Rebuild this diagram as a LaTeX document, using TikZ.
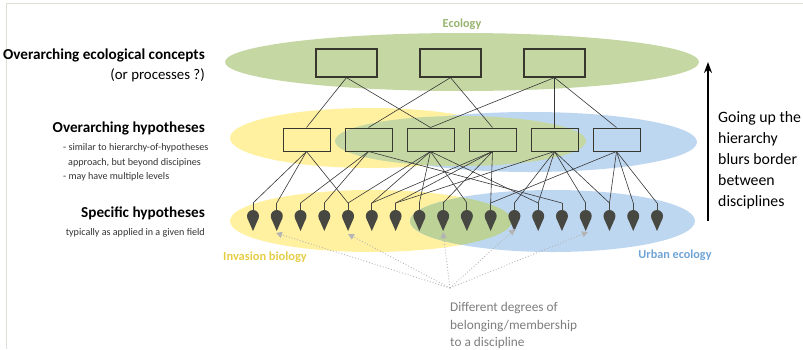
\documentclass[tikz,border=0pt]{standalone}
\usepackage{fontspec}
\setmainfont{Carlito}
\usetikzlibrary{arrows.meta}
\definecolor{ecogreen}{RGB}{197,216,164}
\definecolor{invyellow}{RGB}{255,241,160}
\definecolor{urbblue}{RGB}{190,215,240}
\definecolor{lensgreen}{RGB}{188,210,150}
\definecolor{pinc}{RGB}{72,72,66}
\definecolor{boxline}{RGB}{55,55,45}
\definecolor{linec}{RGB}{55,55,55}
\definecolor{dotc}{RGB}{180,180,180}
\definecolor{labgreen}{RGB}{150,180,110}
\definecolor{labyellow}{RGB}{230,205,70}
\definecolor{labblue}{RGB}{111,163,214}
\definecolor{framec}{RGB}{222,222,214}
\definecolor{graytext}{RGB}{125,125,125}
\begin{document}
\begin{tikzpicture}[x=1pt,y=-1pt,
  topbox/.style={draw=boxline,line width=1.2pt,minimum width=61pt,minimum height=28pt,inner sep=0pt},
  midbox/.style={draw=boxline,line width=1pt,minimum width=47pt,minimum height=23pt,inner sep=0pt},
  link/.style={draw=linec,line width=0.6pt},
  dotarrow/.style={draw=dotc,line width=0.9pt,dotted,-{Triangle[length=6pt,width=6pt,fill=dotc]}},
  biglabel/.style={font=\fontsize{15.2}{18}\selectfont\bfseries,inner sep=0pt},
  smalllabel/.style={font=\fontsize{10.1}{12}\selectfont,text=black!80,inner sep=0pt},
  sidetext/.style={font=\fontsize{15.8}{19}\selectfont,inner sep=0pt},
  graylabel/.style={font=\fontsize{13.3}{18}\selectfont,text=graytext,anchor=base west,inner sep=0pt},
]
\useasboundingbox (0,0) rectangle (803,349);
% frame
\draw[framec,line width=1.5pt] (6.5,349) -- (6.5,3.5) -- (803,3.5);

% ellipses
\fill[ecogreen] (462,62) ellipse [x radius=237pt,y radius=29pt];
\fill[invyellow] (370,138) ellipse [x radius=140pt,y radius=30pt];
\fill[urbblue] (530,142) ellipse [x radius=167pt,y radius=30pt];
\fill[ecogreen] (460.5,141) ellipse [x radius=125.5pt,y radius=25pt];
\fill[invyellow] (371,221) ellipse [x radius=141pt,y radius=31pt];
\fill[urbblue] (552.5,221) ellipse [x radius=142.5pt,y radius=31pt];
\begin{scope}
  \clip (371,221) ellipse [x radius=141pt,y radius=31pt];
  \fill[lensgreen] (552.5,221) ellipse [x radius=142.5pt,y radius=31pt];
\end{scope}

% boxes
\node[topbox] (t1) at (346.5,63) {};
\node[topbox] (t2) at (450.5,63) {};
\node[topbox] (t3) at (554.5,63) {};
\foreach \i in {1,...,6}{
  \node[midbox] (m\i) at ({306.5+62*(\i-1)},139.5) {};
}
% pins
\foreach \i in {1,...,18}{
  \pgfmathsetmacro{\px}{253+23.765*(\i-1)}
  \coordinate (p\i) at (\px,203);
  \draw[pinc,line width=0.8pt] (p\i) -- ++(0,7);
  \fill[pinc] (\px,216) circle (6pt);
  \fill[pinc] (\px-5.5,218.4) -- (\px+5.5,218.4) -- (\px,231) -- cycle;
}

% top to middle links
\foreach \a/\b in {t1/m1,t1/m3,t2/m2,t2/m4,t3/m3,t3/m5,t3/m6}{
  \draw[link] (\a.south) -- (\b.north);
}
% middle to bottom links
\foreach \a/\b in {m1/p1,m1/p2,m1/p5,
                   m2/p3,m2/p4,m2/p14,
                   m3/p5,m3/p6,m3/p8,m3/p10,m3/p13,
                   m4/p6,m4/p7,m4/p9,m4/p11,
                   m5/p7,m5/p12,m5/p13,m5/p15,m5/p16,
                   m6/p11,m6/p16,m6/p17,m6/p18}{
  \draw[link] (\a.south) -- (\b);
}

% dotted arrows
\coordinate (src) at (450,288);
\coordinate (d1) at (276,233);
\coordinate (d2) at (348,234);
\coordinate (d3) at (443,232);
\coordinate (d4) at (515,229);
\coordinate (d5) at (588,232);
\foreach \d in {d1,d2,d3,d4,d5}{
  \draw[dotarrow] (src) -- (\d);
}

% vertical arrow
\coordinate (abot) at (708,221);
\coordinate (atop) at (708,62);
\draw[line width=2pt,-{Stealth[length=11pt,width=8pt]}] (abot) -- (atop);

% labels
\node[font=\fontsize{12.2}{14}\selectfont\bfseries,text=labgreen] (eco) at (462,24) {Ecology};
\node[font=\fontsize{12.4}{14}\selectfont\bfseries,text=labyellow] (inv) at (265,257) {Invasion biology};
\node[font=\fontsize{12.2}{14}\selectfont\bfseries,text=labblue] (urb) at (675,255) {Urban ecology};

\node[biglabel,anchor=base east] (l1) at (205,59) {Overarching ecological concepts};
\node[font=\fontsize{14.8}{17}\selectfont,anchor=base east,inner sep=0pt] (l1b) at (205,79) {(or processes ?)};
\node[biglabel,anchor=base east] (l2) at (205,132) {Overarching hypotheses};
\node[smalllabel,anchor=base west] (l2a) at (63,150.5) {- similar to hierarchy-of-hypotheses};
\node[smalllabel,anchor=base west] (l2b) at (68,165) {approach, but beyond discipines};
\node[smalllabel,anchor=base west] (l2c) at (63,179.5) {- may have multiple levels};
\node[biglabel,anchor=base east] (l3) at (205,217) {Specific hypotheses};
\node[smalllabel,anchor=base east] (l3a) at (205,235.5) {typically as applied in a given field};

\node[sidetext,anchor=base west] (s1) at (718,122) {Going up the};
\node[sidetext,anchor=base west] (s2) at (718,143) {hierarchy};
\node[sidetext,anchor=base west] (s3) at (718,164) {blurs border};
\node[sidetext,anchor=base west] (s4) at (718,185) {between};
\node[sidetext,anchor=base west] (s5) at (718,206) {disciplines};

\node[graylabel] (g1) at (450,311) {Different degrees of};
\node[graylabel] (g2) at (450,329) {belonging/membership};
\node[graylabel] (g3) at (450,346) {to a discipline};
\end{tikzpicture}
\end{document}
